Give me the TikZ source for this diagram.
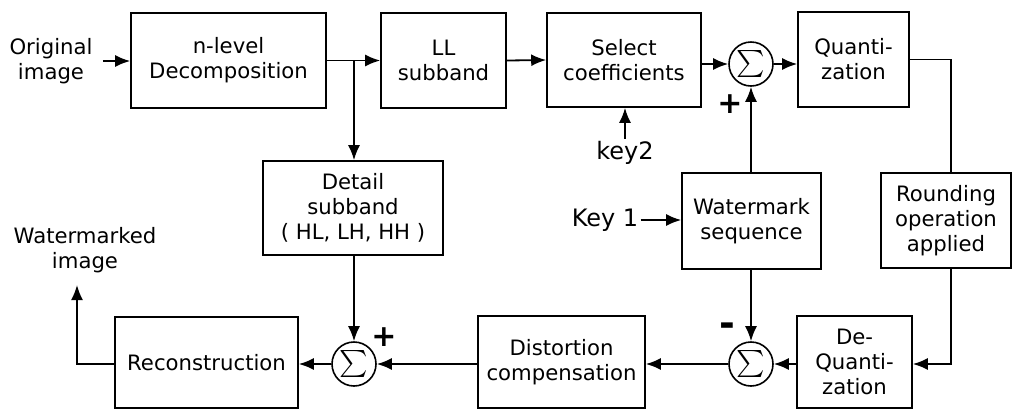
\documentclass[tikz,border=0pt]{standalone}
\usepackage{fontspec}
\usepackage{graphicx}
\setmainfont{DejaVu Sans}
\usetikzlibrary{arrows.meta}
\newcommand{\bigsigma}{\scalebox{1.35}{$\sum$}}
\begin{document}
\begin{tikzpicture}[x=0.5pt,y=-0.5pt,
 box/.style={draw, line width=0.8pt, inner sep=0pt, align=center, font=\fontsize{10.6}{12.5}\selectfont},
 sumnode/.style={draw, circle, line width=0.8pt, minimum size=22pt, inner sep=0pt},
 lbl/.style={align=center, inner sep=1pt, font=\fontsize{10.6}{12.5}\selectfont},
 keylbl/.style={inner sep=1pt, font=\fontsize{12}{14}\selectfont},
 arr/.style={-{Latex[length=7.5pt,width=6pt]}, line width=0.9pt},
 ln/.style={line width=0.9pt},
 sign/.style={inner sep=0pt, font=\bfseries\fontsize{15}{15}\selectfont},
 msign/.style={inner sep=0pt, font=\bfseries\fontsize{19}{19}\selectfont}]
\useasboundingbox (0,0) rectangle (1012,409);
% top row
\node[box, minimum width=97.5pt, minimum height=47.5pt] (dec) at (228.5,60.5) {n-level\\Decomposition};
\node[box, minimum width=62.5pt, minimum height=47.5pt] (ll) at (443.5,60.5) {LL\\subband};
\node[box, minimum width=77pt, minimum height=47pt] (sel) at (624,60) {Select\\coefficients};
\node[sumnode] (s1) at (751,64) {\bigsigma};
\node[box, minimum width=55.5pt, minimum height=47.5pt] (q) at (853.5,59.5) {Quanti-\\zation};
% middle
\node[box, minimum width=90pt, minimum height=47pt] (det) at (353,208) {Detail\\subband\\( HL, LH, HH )};
\node[box, minimum width=69.5pt, minimum height=48pt] (wm) at (751.5,221) {Watermark\\sequence};
\node[box, minimum width=65pt, minimum height=47.5pt] (rnd) at (946,220.5) {Rounding\\operation\\applied};
% bottom row
\node[box, minimum width=57.5pt, minimum height=46pt] (dq) at (854.5,362) {De-\\Quanti-\\zation};
\node[sumnode] (s2) at (751,364) {\bigsigma};
\node[box, minimum width=83.5pt, minimum height=46pt] (dc) at (561.5,362) {Distortion\\compensation};
\node[sumnode] (s3) at (354,364) {\bigsigma};
\node[box, minimum width=91.5pt, minimum height=45.5pt] (rec) at (206.5,362.5) {Reconstruction};
% labels
\node[lbl] (orig) at (51,61) {Original\\image};
\node[lbl] (wmi) at (85,250) {Watermarked\\image};
\node[keylbl] (key1) at (605,220) {Key 1};
\node[keylbl] (key2) at (625,153) {key2};
\node[sign] (p1) at (730,104) {+};
\node[sign] (p3) at (384,337) {+};
\node[msign] (m2) at (727,330) {-};
\coordinate (wmo) at (77,285);
% connectors
\draw[arr, shorten <=4pt] (orig.east) -- (orig.east -| dec.west);
\draw[arr] (dec.east) -- (ll.west);
\draw[arr] (dec.east -| s3) -- (det.north -| s3);
\draw[arr] (ll.east) -- (sel.west);
\draw[arr] (sel.east |- s1.west) -- (s1.west);
\draw[arr] (s1.east) -- (s1.east -| q.west);
\draw[arr] (key2.north) -- (key2.north |- sel.south);
\draw[ln] (q.east) -| ([xshift=2.5pt]rnd.north);
\draw[arr] ([xshift=2.5pt]rnd.south) |- (dq.east |- s2);
\draw[arr] (dq.west |- s2) -- (s2.east);
\draw[arr] (s2.west) -- (s2.west -| dc.east);
\draw[arr] (dc.west |- s3) -- (s3.east);
\draw[arr] (s3.west) -- (s3.west -| rec.east);
\draw[arr] (rec.west |- s3) -| (wmo);
\draw[arr] (det.south -| s3) -- (s3.north);
\draw[arr] (wm.north -| s1) -- (s1.south);
\draw[arr] (wm.south -| s2) -- (s2.north);
\draw[arr] (key1.east) -- (key1.east -| wm.west);
\end{tikzpicture}
\end{document}
